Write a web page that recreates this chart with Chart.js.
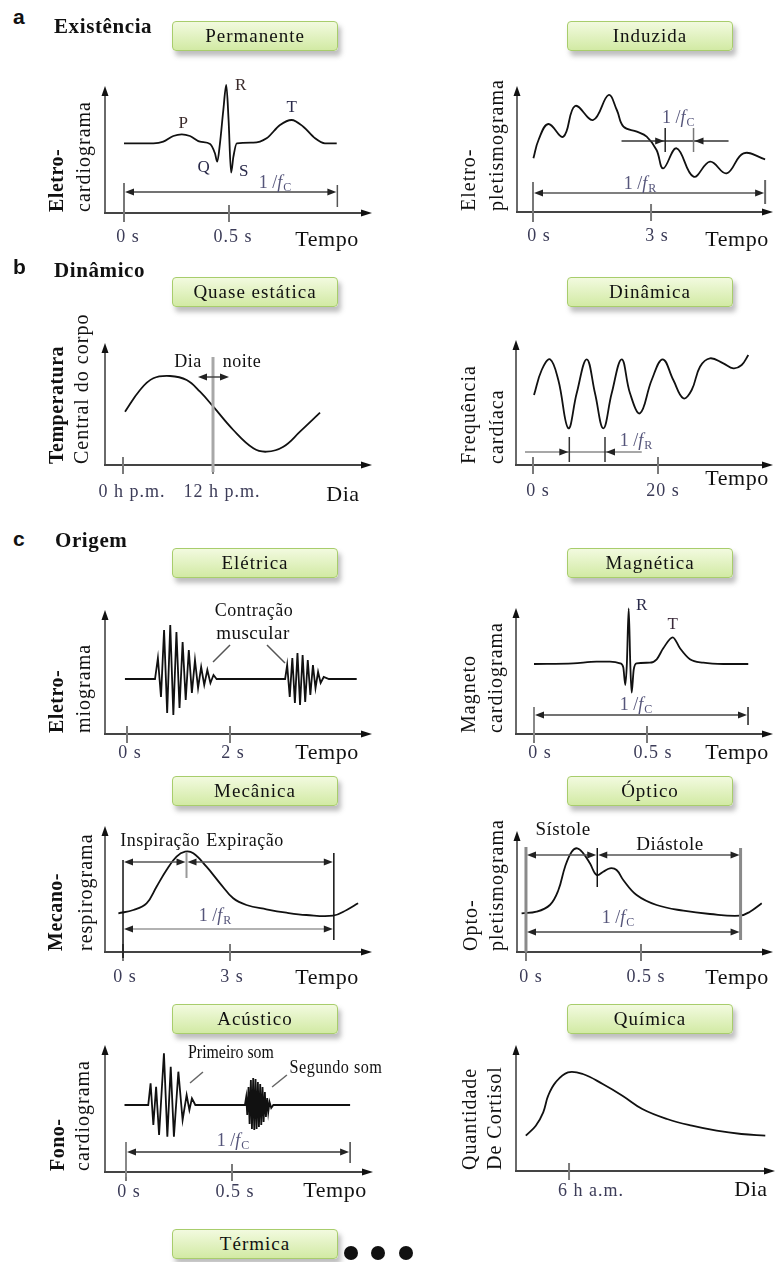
<!DOCTYPE html>
<html>
<head>
<meta charset="utf-8">
<script src="https://cdn.jsdelivr.net/npm/chart.js@4"></script>
<style>
  body { margin: 0; width: 775px; height: 1262px; position: relative; overflow: hidden; background: #fff;
         font-family: "Liberation Serif", serif; color: #111; }
  canvas { position: absolute; z-index: 1; }
  .sec { position: absolute; font-family: "Liberation Sans", sans-serif; font-weight: bold; font-size: 21px; line-height: 1; z-index: 2; }
  .hdr { position: absolute; font-weight: bold; font-size: 21px; line-height: 1; letter-spacing: 0.6px; z-index: 2; }
  .box { position: absolute; width: 164px; height: 28px; line-height: 28px; text-align: center; font-size: 19px; letter-spacing: 1px;
         background: linear-gradient(#f2fadf, #d2eaa4); border: 1px solid #a8cd6c; border-radius: 4px;
         box-shadow: 3px 5px 5px rgba(110,110,110,0.45); z-index: 2; }
  .dot { position: absolute; width: 14px; height: 14px; border-radius: 50%; background: #111; z-index: 2; }
</style>
</head>
<body>

<div class="sec" style="left:13px;top:6px">a</div>
<div class="hdr" style="left:54px;top:16px">Existência</div>
<div class="box" style="left:172px;top:21px">Permanente</div>
<div class="box" style="left:567px;top:21px">Induzida</div>

<div class="sec" style="left:13px;top:256px">b</div>
<div class="hdr" style="left:54px;top:260px">Dinâmico</div>
<div class="box" style="left:172px;top:277px">Quase estática</div>
<div class="box" style="left:567px;top:277px">Dinâmica</div>

<div class="sec" style="left:13px;top:528px">c</div>
<div class="hdr" style="left:55px;top:530px">Origem</div>
<div class="box" style="left:172px;top:548px">Elétrica</div>
<div class="box" style="left:567px;top:548px">Magnética</div>
<div class="box" style="left:172px;top:776px">Mecânica</div>
<div class="box" style="left:567px;top:776px">Óptico</div>
<div class="box" style="left:172px;top:1004px">Acústico</div>
<div class="box" style="left:567px;top:1004px">Química</div>
<div class="box" style="left:172px;top:1229px">Térmica</div>
<div class="dot" style="left:344px;top:1246px"></div>
<div class="dot" style="left:371px;top:1246px"></div>
<div class="dot" style="left:399px;top:1246px"></div>

<script>
// ---- data (x in seconds / hours, y in arbitrary amplitude above the time axis)
const ecgTime = [0, 0.14, 0.187, 0.235, 0.275, 0.314, 0.362, 0.41, 0.433, 0.444, 0.457, 0.473, 0.487, 0.498, 0.51, 0.521, 0.537, 0.616, 0.679, 0.743, 0.798, 0.854, 0.91, 0.957, 1.013];
const ecgValue = [69.7, 69.7, 71.3, 77, 78.7, 77, 71.3, 69, 59.7, 51.3, 69.7, 103, 128, 93, 40.3, 56.3, 69.7, 70.3, 74.7, 88, 93, 86.3, 74.7, 69.7, 69.7];

const epgTime = [0.01, 0.14, 0.39, 0.77, 1.07, 1.53, 1.92, 2.13, 2.30, 2.64, 2.89, 3.14, 3.31, 3.65, 4.08, 4.50, 4.92, 5.35, 5.9];
const epgValue = [53.7, 72, 88, 75.3, 106, 92, 117, 102, 85.3, 80.3, 75.3, 62, 43.7, 63.7, 35.3, 50.3, 38.7, 58.7, 52.7];

const tempHour = [0.27, 2.27, 4.04, 6.27, 8.49, 10.27, 12.04, 14.71, 17.38, 19.16, 21.38, 23.6, 26.27];
const tempValue = [53.3, 75, 86.7, 89, 85, 73.3, 58.3, 35, 16.7, 13.3, 18.3, 33.3, 52.3];

const hrTime = [0.16, 1.39, 2.72, 4.05, 5.65, 6.99, 8.59, 9.92, 11.25, 12.59, 14.19, 15.52, 17.12, 18.99, 20.75, 22.45, 24.05, 25.39, 26.72, 28.32, 30.45, 32.05, 33.39, 34.45];
const hrValue = [70, 95, 105.7, 85, 36.7, 71.7, 105.7, 71.7, 36.7, 71.7, 105.7, 71.7, 51.7, 85, 105.7, 85, 66.7, 75, 98.3, 106.7, 101.7, 96.7, 100, 110];

const emgTime = [-0.04, 0.544, 0.60, 0.66, 0.72, 0.78, 0.84, 0.90, 0.96, 1.02, 1.08, 1.14, 1.20, 1.26, 1.32, 1.38, 1.44, 1.50, 1.56, 1.62, 1.68, 1.74, 1.80,
                 3.07, 3.11, 3.16, 3.21, 3.26, 3.31, 3.36, 3.41, 3.46, 3.51, 3.56, 3.61, 3.66, 3.71, 3.76, 3.82, 3.92, 4.46];
const emgValue = [55, 55, 76, 37, 104, 21, 109, 19, 102, 26, 92, 34, 84, 41, 74, 46, 67, 49, 64, 51, 59, 55, 55,
                  55, 69, 37, 76, 31, 81, 29, 79, 32, 74, 39, 69, 46, 62, 51, 57, 55, 55];

const mcgTime = [0, 0.174, 0.277, 0.336, 0.381, 0.395, 0.404, 0.411, 0.419, 0.426, 0.432, 0.441, 0.454, 0.513, 0.543, 0.572, 0.614, 0.646, 0.690, 0.749, 0.838, 0.948];
const mcgValue = [70, 70.7, 72.3, 72.3, 70.7, 66.7, 49, 70.7, 125.7, 70.7, 41.3, 64, 70.7, 71.3, 74.7, 85.7, 96.7, 85.7, 74.7, 71.3, 70, 70];

const mechTime = [-0.13, 0.29, 0.66, 0.94, 1.22, 1.50, 1.74, 1.97, 2.34, 2.72, 3.09, 3.46, 4.02, 4.58, 5.14, 5.89, 6.27, 6.59];
const mechValue = [38.7, 42, 48.7, 65.3, 82, 95.3, 100.3, 98.7, 85.3, 68.7, 53.7, 47, 42.7, 39.3, 37, 36.3, 42, 48.7];

const optTime = [-0.019, 0.046, 0.104, 0.141, 0.170, 0.199, 0.223, 0.249, 0.278, 0.307, 0.336, 0.365, 0.394, 0.423, 0.481, 0.568, 0.684, 0.8, 0.930, 0.974, 1.025];
const optValue = [38.7, 40.3, 47, 62, 85.3, 100.3, 103.7, 98.7, 88.7, 77, 80.3, 83.7, 82, 72, 57, 47, 41.3, 38, 36.3, 40.3, 48.7];

const pcgTime = [-0.007, 0.105, 0.116, 0.129, 0.142, 0.156, 0.179, 0.195, 0.211, 0.226, 0.247, 0.267, 0.286, 0.299, 0.311, 0.327,
                 0.561, 0.567, 0.572, 0.578, 0.583, 0.589, 0.594, 0.600, 0.605, 0.611, 0.616, 0.622, 0.627, 0.633, 0.638, 0.644, 0.649, 0.655, 0.660, 0.666, 0.671, 0.677, 0.685, 0.695, 1.057];
const pcgValue = [67, 67, 88.7, 47, 85.3, 37, 118.7, 35.3, 105.3, 35.3, 100.3, 52, 77, 62, 73.7, 67,
                  67, 75, 57, 85, 48, 92, 43, 94, 42, 93, 43, 90, 45, 88, 47, 85, 50, 80, 55, 74, 60, 70, 64, 67, 67];

const chemHour = [1.11, 2.24, 3.08, 3.64, 4.48, 5.88, 7.56, 9.81, 12.04, 14.29, 17.09, 19.9, 22.7, 25.5, 28.2];
const chemValue = [35.3, 45.3, 58.7, 75.3, 88.7, 98.7, 97, 87, 75.3, 62, 52, 45.3, 40.3, 37, 35.3];

// tick values and labels
const secTicksHalf = [0, 0.5], secLabelsHalf = ['0 s', '0.5 s'];
const epgTicks = [0, 3], epgLabels = ['0 s', '3 s'];
const tempTicks = [0, 12], tempLabels = ['0 h p.m.', '12 h p.m.'];
const hrTicks = [0, 20], hrLabels = ['0 s', '20 s'];
const emgTicks = [0, 2], emgLabels = ['0 s', '2 s'];
const mechTicks = [0, 3], mechLabels = ['0 s', '3 s'];
const chemTicks = [6], chemLabels = ['6 h a.m.'];

Chart.defaults.font.family = '"Liberation Serif", serif';
const AXIS_H = 45;
const SERIF = '"Liberation Serif", serif';

function arrowHead(ctx, x, y, dx, dy, len, half) {
  len = len || 8; half = half || 3.5;
  ctx.beginPath();
  ctx.moveTo(x, y);
  ctx.lineTo(x - dx * len - dy * half, y - dy * len + dx * half);
  ctx.lineTo(x - dx * len + dy * half, y - dy * len - dx * half);
  ctx.closePath();
  ctx.fill();
}

function setSpacing(ctx, s) {
  if ('letterSpacing' in ctx) ctx.letterSpacing = s;
}

function periodLabel(ctx, px, py, sub, color) {
  ctx.fillStyle = color || '#55557a';
  ctx.textAlign = 'left'; ctx.textBaseline = 'alphabetic';
  const f1 = '18px ' + SERIF, f2 = 'italic 18px ' + SERIF, f3 = '12px ' + SERIF;
  ctx.font = f1; const w1 = ctx.measureText('1 /').width;
  ctx.font = f2; const w2 = ctx.measureText('f').width;
  ctx.font = f3; const w3 = ctx.measureText(sub).width;
  let x = px - (w1 + w2 + w3 + 1) / 2;
  const base = py + 6;
  ctx.font = f1; ctx.fillText('1 /', x, base); x += w1;
  ctx.font = f2; ctx.fillText('f', x, base); x += w2 + 1;
  ctx.font = f3; ctx.fillText(sub, x, base + 3);
}

function makeSketch(spec) {
  return {
    id: 'sketch',
    beforeDraw(chart) { setSpacing(chart.ctx, '1px'); },
    afterDatasetsDraw(chart) {
      const ctx = chart.ctx, a = chart.chartArea, xs = chart.scales.x, ys = chart.scales.y;
      const X = t => xs.getPixelForValue(t), Y = v => ys.getPixelForValue(v);
      ctx.save();
      ctx.lineCap = 'butt';
      // axes with arrows
      ctx.strokeStyle = '#6a6a6a'; ctx.fillStyle = '#111'; ctx.lineWidth = 2;
      ctx.beginPath(); ctx.moveTo(a.left, a.bottom); ctx.lineTo(a.left, a.top + 4); ctx.stroke();
      arrowHead(ctx, a.left, a.top - 2, 0, -1, 10, 3.5);
      ctx.strokeStyle = '#444';
      ctx.beginPath(); ctx.moveTo(a.left - 1, a.bottom); ctx.lineTo(a.right - 6, a.bottom); ctx.stroke();
      arrowHead(ctx, a.right, a.bottom, 1, 0, 11, 3.5);
      // tick marks
      ctx.strokeStyle = '#7a7a7a'; ctx.lineWidth = 2;
      spec.ticks.forEach(t => {
        ctx.beginPath(); ctx.moveTo(X(t), a.bottom - 8); ctx.lineTo(X(t), a.bottom + 9); ctx.stroke();
      });
      // annotations
      (spec.notes || []).forEach(n => {
        ctx.strokeStyle = n.color || '#333'; ctx.fillStyle = n.color || '#333';
        ctx.lineWidth = n.width || 1.5;
        if (n.type === 'vline') {
          ctx.beginPath(); ctx.moveTo(X(n.t), Y(n.v1)); ctx.lineTo(X(n.t), Y(n.v2)); ctx.stroke();
        } else if (n.type === 'seg') {
          ctx.beginPath(); ctx.moveTo(X(n.t1), Y(n.v1)); ctx.lineTo(X(n.t2), Y(n.v2)); ctx.stroke();
        } else if (n.type === 'dim') {
          const x1 = X(n.t1), x2 = X(n.t2), y = Y(n.v);
          ctx.beginPath(); ctx.moveTo(x1 + 4, y); ctx.lineTo(x2 - 4, y); ctx.stroke();
          ctx.fillStyle = '#222';
          arrowHead(ctx, x1 + 1, y, -1, 0, 9, 3.5);
          arrowHead(ctx, x2 - 1, y, 1, 0, 9, 3.5);
        } else if (n.type === 'inward') {
          const y = Y(n.v);
          ctx.beginPath(); ctx.moveTo(X(n.from), y); ctx.lineTo(X(n.to), y); ctx.stroke();
          ctx.fillStyle = '#222';
          arrowHead(ctx, X(n.t1) - 1, y, 1, 0, 9, 3.5);
          arrowHead(ctx, X(n.t2) + 1, y, -1, 0, 9, 3.5);
        } else if (n.type === 'period') {
          setSpacing(ctx, '0px');
          periodLabel(ctx, X(n.t), Y(n.v), n.sub);
          setSpacing(ctx, '1px');
        } else if (n.type === 'text') {
          ctx.fillStyle = n.color || '#111';
          ctx.font = (n.size || 18) + 'px ' + SERIF;
          ctx.textAlign = 'center'; ctx.textBaseline = 'middle';
          setSpacing(ctx, n.spacing || '0.5px');
          if (n.squeeze) {
            ctx.save(); ctx.translate(X(n.t), Y(n.v)); ctx.scale(n.squeeze, 1);
            ctx.fillText(n.text, 0, 0); ctx.restore();
          } else {
            ctx.fillText(n.text, X(n.t), Y(n.v));
          }
          setSpacing(ctx, '1px');
        }
      });
      // y axis label lines (rotated, bottom aligned)
      ctx.fillStyle = '#111'; ctx.textAlign = 'left'; ctx.textBaseline = 'middle';
      spec.yLabel.forEach((l, i) => {
        const bold = i === 0 && spec.boldFirst;
        ctx.font = (bold ? 'bold ' : '') + '20px ' + SERIF;
        setSpacing(ctx, bold ? '0.5px' : '1px');
        ctx.save(); ctx.translate(a.left + l.dx, a.bottom - 1); ctx.rotate(-Math.PI / 2);
        ctx.fillText(l.text, 0, 0); ctx.restore();
      });
      // axis title at the right end
      setSpacing(ctx, '0.5px');
      ctx.font = '22px ' + SERIF; ctx.textAlign = 'center'; ctx.fillStyle = '#111';
      ctx.fillText(spec.xTitle.text, a.right + spec.xTitle.dx, a.bottom + spec.xTitle.dy);
      setSpacing(ctx, '1px');
      ctx.restore();
    },
    afterDraw(chart) { setSpacing(chart.ctx, '0px'); }
  };
}

function buildPanel(spec) {
  const left = spec.col === 0 ? 0 : 388;
  const width = spec.col === 0 ? 388 : 387;
  const top = spec.area.top - 32;
  const height = spec.area.bottom - top + AXIS_H;
  const canvas = document.createElement('canvas');
  canvas.width = width; canvas.height = height;
  canvas.style.left = left + 'px'; canvas.style.top = top + 'px';
  document.body.appendChild(canvas);
  const curve = spec.curve || 'straight';
  new Chart(canvas, {
    type: 'line',
    data: {
      datasets: [{
        data: spec.xs.map((t, i) => ({ x: t, y: spec.ys[i] })),
        borderColor: '#111', borderWidth: 1.8, pointRadius: 0, fill: false, clip: false,
        cubicInterpolationMode: curve === 'monotone' ? 'monotone' : 'default',
        tension: curve === 'smooth' ? 0.4 : 0
      }]
    },
    options: {
      responsive: false, animation: false, devicePixelRatio: 1,
      layout: { padding: { left: spec.area.left - left, right: left + width - spec.area.right, top: 32, bottom: 0 } },
      plugins: { legend: { display: false }, tooltip: { enabled: false } },
      scales: {
        x: {
          type: 'linear', min: spec.xMin, max: spec.xMax,
          afterBuildTicks: s => { s.ticks = spec.ticks.map(v => ({ value: v })); },
          afterFit: s => { s.height = AXIS_H; },
          grid: { display: false, drawTicks: false }, border: { display: false },
          ticks: { autoSkip: false, maxRotation: 0, padding: spec.tickPad, labelOffset: spec.labelOffset,
                   color: '#3c3c58', font: { size: 18 }, callback: (v, i) => spec.tickLabels[i] }
        },
        y: { type: 'linear', display: false, min: 0, max: spec.area.bottom - spec.area.top }
      }
    },
    plugins: [makeSketch(spec)]
  });
}

const panels = [
  { col: 0, area: { left: 105, right: 372, top: 88, bottom: 213 }, xMin: -0.0905, xMax: 1.181,
    xs: ecgTime, ys: ecgValue, curve: 'monotone', ticks: secTicksHalf, tickLabels: secLabelsHalf, tickPad: 13, labelOffset: 4,
    yLabel: [{ text: 'Eletro-', dx: -47 }, { text: 'cardiograma', dx: -20 }], boldFirst: true,
    xTitle: { text: 'Tempo', dx: -45, dy: 27 },
    notes: [
      { type: 'vline', t: 0, v1: -9, v2: 30, color: '#777', width: 2 },
      { type: 'vline', t: 1.016, v1: 6, v2: 28, color: '#555', width: 1.5 },
      { type: 'dim', t1: 0, t2: 1.016, v: 21, color: '#444' },
      { type: 'period', t: 0.719, v: 31, sub: 'C' },
      { type: 'text', t: 0.283, v: 89, text: 'P', size: 17, color: '#3a2a2a' },
      { type: 'text', t: 0.557, v: 127, text: 'R', size: 17, color: '#3a2a2a' },
      { type: 'text', t: 0.381, v: 45, text: 'Q', size: 17, color: '#2a2a4a' },
      { type: 'text', t: 0.571, v: 41, text: 'S', size: 17, color: '#2a2a4a' },
      { type: 'text', t: 0.8, v: 105, text: 'T', size: 17, color: '#2a2a4a' }
    ] },
  { col: 1, area: { left: 517, right: 773, top: 88, bottom: 212 }, xMin: -0.407, xMax: 6.10,
    xs: epgTime, ys: epgValue, curve: 'smooth', ticks: epgTicks, tickLabels: epgLabels, tickPad: 13, labelOffset: 6,
    yLabel: [{ text: 'Eletro-', dx: -47 }, { text: 'pletismograma', dx: -19 }],
    xTitle: { text: 'Tempo', dx: -36, dy: 28 },
    notes: [
      { type: 'vline', t: 0, v1: -10, v2: 30, color: '#777', width: 2 },
      { type: 'vline', t: 5.9, v1: 8, v2: 32, color: '#666', width: 2 },
      { type: 'dim', t1: 0, t2: 5.9, v: 19, color: '#555' },
      { type: 'period', t: 2.72, v: 29, sub: 'R' },
      { type: 'inward', from: 2.25, to: 4.97, t1: 3.36, t2: 4.08, v: 71, color: '#333' },
      { type: 'vline', t: 3.36, v1: 60, v2: 84, color: '#222', width: 1.5 },
      { type: 'vline', t: 4.08, v1: 60, v2: 84, color: '#777', width: 1.5 },
      { type: 'period', t: 3.69, v: 95, sub: 'C' }
    ] },
  { col: 0, area: { left: 105, right: 372, top: 345, bottom: 465 }, xMin: -2.4, xMax: 33.2,
    xs: tempHour, ys: tempValue, curve: 'smooth', ticks: tempTicks, tickLabels: tempLabels, tickPad: 16, labelOffset: 9,
    yLabel: [{ text: 'Temperatura', dx: -47 }, { text: 'Central do corpo', dx: -22 }], boldFirst: true,
    xTitle: { text: 'Dia', dx: -29, dy: 30 },
    notes: [
      { type: 'vline', t: 12, v1: -7, v2: 108, color: '#a8a8a8', width: 3 },
      { type: 'dim', t1: 9.87, t2: 14.27, v: 88, color: '#444' },
      { type: 'text', t: 8.67, v: 103, text: 'Dia', size: 18 },
      { type: 'text', t: 15.87, v: 103, text: 'noite', size: 18 }
    ] },
  { col: 1, area: { left: 516, right: 773, top: 342, bottom: 465 }, xMin: -2.72, xMax: 38.4,
    xs: hrTime, ys: hrValue, curve: 'smooth', ticks: hrTicks, tickLabels: hrLabels, tickPad: 15, labelOffset: 5,
    yLabel: [{ text: 'Frequência', dx: -46 }, { text: 'cardíaca', dx: -18 }],
    xTitle: { text: 'Tempo', dx: -36, dy: 14 },
    notes: [
      { type: 'inward', from: -1.28, to: 17.4, t1: 5.81, t2: 11.52, v: 13, color: '#8a8a8a' },
      { type: 'vline', t: 5.81, v1: 3, v2: 28, color: '#333', width: 1.5 },
      { type: 'vline', t: 11.52, v1: 3, v2: 28, color: '#333', width: 1.5 },
      { type: 'period', t: 16.5, v: 25, sub: 'R' }
    ] },
  { col: 0, area: { left: 105, right: 372, top: 612, bottom: 734 }, xMin: -0.427, xMax: 4.757,
    xs: emgTime, ys: emgValue, curve: 'straight', ticks: emgTicks, tickLabels: emgLabels, tickPad: 8, labelOffset: 3,
    yLabel: [{ text: 'Eletro-', dx: -47 }, { text: 'miograma', dx: -20 }], boldFirst: true,
    xTitle: { text: 'Tempo', dx: -45, dy: 19 },
    notes: [
      { type: 'text', t: 2.466, v: 123, text: 'Contração', size: 18 },
      { type: 'text', t: 2.447, v: 100, text: 'muscular', size: 19 },
      { type: 'seg', t1: 2.0, v1: 89, t2: 1.67, v2: 72, color: '#555', width: 1.5 },
      { type: 'seg', t1: 2.718, v1: 89, t2: 3.068, v2: 71, color: '#555', width: 1.5 }
    ] },
  { col: 1, area: { left: 516, right: 773, top: 610, bottom: 734 }, xMin: -0.0796, xMax: 1.0575,
    xs: mcgTime, ys: mcgValue, curve: 'monotone', ticks: secTicksHalf, tickLabels: secLabelsHalf, tickPad: 8, labelOffset: 6,
    yLabel: [{ text: 'Magneto', dx: -46 }, { text: 'cardiograma', dx: -19 }],
    xTitle: { text: 'Tempo', dx: -36, dy: 19 },
    notes: [
      { type: 'vline', t: 0, v1: -6, v2: 27, color: '#888', width: 2 },
      { type: 'vline', t: 0.947, v1: 9, v2: 27, color: '#222', width: 1.5 },
      { type: 'dim', t1: 0, t2: 0.947, v: 19, color: '#444' },
      { type: 'period', t: 0.451, v: 30, sub: 'C' },
      { type: 'text', t: 0.478, v: 128, text: 'R', size: 17, color: '#2a2a4a' },
      { type: 'text', t: 0.615, v: 109, text: 'T', size: 17, color: '#3a2a3a' }
    ] },
  { col: 0, area: { left: 105, right: 372, top: 828, bottom: 952 }, xMin: -0.505, xMax: 6.98,
    xs: mechTime, ys: mechValue, curve: 'smooth', ticks: mechTicks, tickLabels: mechLabels, tickPad: 14, labelOffset: 2,
    yLabel: [{ text: 'Mecano-', dx: -48 }, { text: 'respirograma', dx: -18 }], boldFirst: true,
    xTitle: { text: 'Tempo', dx: -45, dy: 26 },
    notes: [
      { type: 'vline', t: 0, v1: -6, v2: 92, color: '#111', width: 1.5 },
      { type: 'vline', t: 5.91, v1: 12, v2: 99, color: '#111', width: 1.5 },
      { type: 'vline', t: 1.78, v1: 74, v2: 100, color: '#999', width: 2 },
      { type: 'dim', t1: 0, t2: 1.78, v: 90, color: '#555' },
      { type: 'dim', t1: 1.78, t2: 5.91, v: 90, color: '#555' },
      { type: 'dim', t1: 0, t2: 5.91, v: 23, color: '#999' },
      { type: 'period', t: 2.58, v: 37, sub: 'R' },
      { type: 'text', t: 1.04, v: 111, text: 'Inspiração', size: 18 },
      { type: 'text', t: 3.42, v: 111, text: 'Expiração', size: 18 }
    ] },
  { col: 1, area: { left: 517, right: 773, top: 833, bottom: 952 }, xMin: -0.039, xMax: 1.074,
    xs: optTime, ys: optValue, curve: 'smooth', ticks: secTicksHalf, tickLabels: secLabelsHalf, tickPad: 14, labelOffset: 5,
    yLabel: [{ text: 'Opto-', dx: -45 }, { text: 'pletismograma', dx: -19 }],
    xTitle: { text: 'Tempo', dx: -36, dy: 26 },
    notes: [
      { type: 'vline', t: 0, v1: 0, v2: 105, color: '#8a8a8a', width: 3 },
      { type: 'vline', t: 0.933, v1: 12, v2: 104, color: '#8a8a8a', width: 3 },
      { type: 'vline', t: 0.31, v1: 65, v2: 104, color: '#111', width: 1.5 },
      { type: 'dim', t1: 0, t2: 0.31, v: 97, color: '#555' },
      { type: 'dim', t1: 0.31, t2: 0.933, v: 97, color: '#555' },
      { type: 'dim', t1: 0, t2: 0.933, v: 20, color: '#444' },
      { type: 'period', t: 0.4, v: 35, sub: 'C' },
      { type: 'text', t: 0.161, v: 122, text: 'Sístole', size: 19 },
      { type: 'text', t: 0.626, v: 107, text: 'Diástole', size: 19 }
    ] },
  { col: 0, area: { left: 105, right: 373, top: 1047, bottom: 1172 }, xMin: -0.099, xMax: 1.165,
    xs: pcgTime, ys: pcgValue, curve: 'straight', ticks: secTicksHalf, tickLabels: secLabelsHalf, tickPad: 9, labelOffset: 3,
    yLabel: [{ text: 'Fono-', dx: -46 }, { text: 'cardiograma', dx: -21 }], boldFirst: true,
    xTitle: { text: 'Tempo', dx: -38, dy: 19 },
    notes: [
      { type: 'vline', t: 0, v1: -5, v2: 30, color: '#888', width: 2 },
      { type: 'vline', t: 1.057, v1: 9, v2: 30, color: '#444', width: 1.5 },
      { type: 'dim', t1: 0, t2: 1.057, v: 20, color: '#333' },
      { type: 'period', t: 0.505, v: 32, sub: 'C' },
      { type: 'text', t: 0.495, v: 119, text: 'Primeiro som', size: 18, squeeze: 0.88, spacing: '0px' },
      { type: 'text', t: 0.99, v: 104, text: 'Segundo som', size: 18, squeeze: 0.9, spacing: '0.5px' },
      { type: 'seg', t1: 0.363, v1: 100, t2: 0.302, v2: 89, color: '#666', width: 1.5 },
      { type: 'seg', t1: 0.759, v1: 97, t2: 0.689, v2: 85, color: '#666', width: 1.5 }
    ] },
  { col: 1, area: { left: 516, right: 775, top: 1047, bottom: 1171 }, xMin: 0, xMax: 29.3,
    xs: chemHour, ys: chemValue, curve: 'smooth', ticks: chemTicks, tickLabels: chemLabels, tickPad: 9, labelOffset: 22,
    yLabel: [{ text: 'Quantidade', dx: -45 }, { text: 'De Cortisol', dx: -20 }],
    xTitle: { text: 'Dia', dx: -24, dy: 19 },
    notes: [] }
];

panels.forEach(buildPanel);
</script>
</body>
</html>
